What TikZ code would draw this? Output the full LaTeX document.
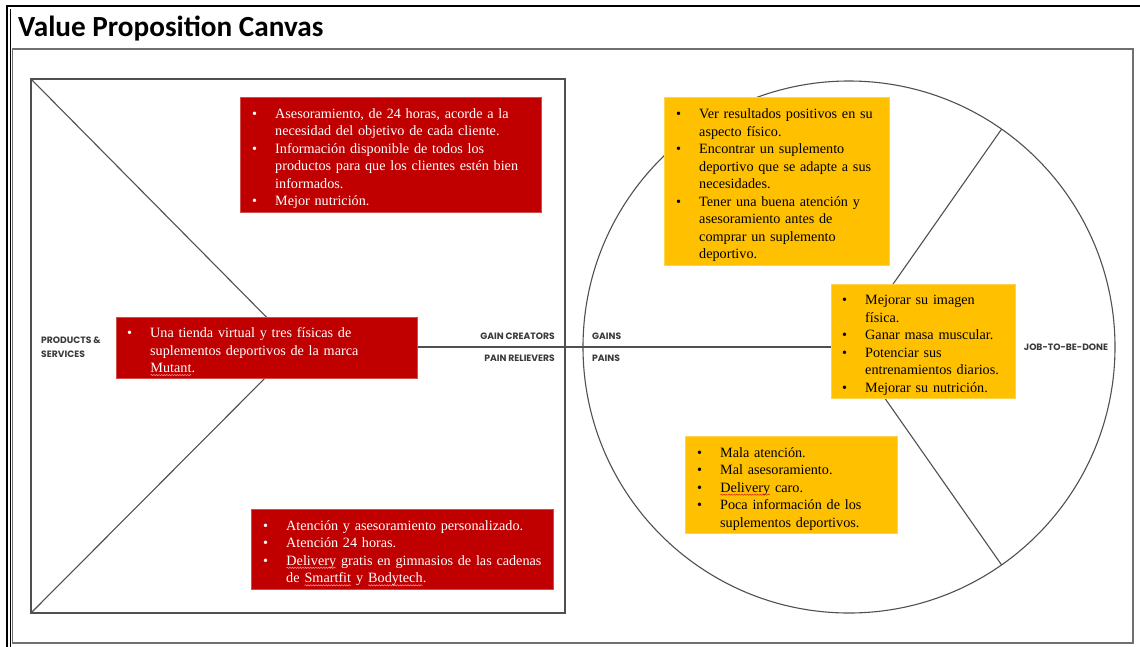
\documentclass[tikz,border=0pt]{standalone}
\usepackage{fontspec}
\setmainfont{Liberation Serif}
\newfontfamily\titlefont{Carlito}
\newfontfamily\labfont{Poppins}
\usetikzlibrary{decorations.pathmorphing}
\definecolor{vpred}{HTML}{C00000}
\definecolor{vpyellow}{HTML}{FFC000}
\definecolor{framegray}{HTML}{707070}
\definecolor{linegray}{HTML}{505050}
\definecolor{labgray}{HTML}{3A3A3A}
\definecolor{squigpink}{HTML}{F0A0A0}
\definecolor{squigred}{HTML}{E02020}
\newcommand\bl[1]{\par{\noindent\hangindent=23pt\hangafter=1\def\\{\hfil\break}\hbox to 23pt{\textbullet\hfil}#1\par}}
\newcommand\squig[2][squigred]{\tikz[baseline=(sw.base)]{\node[inner sep=0pt, outer sep=0pt] (sw) {#2}; \draw[#1, line width=0.5pt, decorate, decoration={snake, amplitude=0.6pt, segment length=2.6pt}] ([yshift=-2.5pt]sw.base west) -- ([yshift=-2.5pt]sw.base east);}}
\tikzset{
  redbox/.style={fill=vpred, draw=vpred!70!white, line width=0.6pt, inner sep=0pt, outer sep=0pt, anchor=north west},
  yelbox/.style={fill=vpyellow, draw=vpyellow!70!white, line width=0.6pt, inner sep=0pt, outer sep=0pt, anchor=north west},
  txt/.style={anchor=west, inner sep=0pt, text width=400pt, align=left, font=\fontsize{14.2}{17.5}\selectfont},
  wtxt/.style={txt, text=white},
  btxt/.style={txt, text=black},
  lab/.style={inner sep=0pt, text=labgray, font=\labfont\bfseries\fontsize{9.2}{13.5}\selectfont},
  canvasline/.style={draw=linegray, line width=1.1pt},
}
\begin{document}
\begin{tikzpicture}[x=1pt, y=-1pt]
\useasboundingbox (0,0) rectangle (1140,646);
\fill[white] (0,0) rectangle (1140,646);
% outer frame
\draw[black, line width=2.2pt] (7,650) -- (7,6) -- (1145,6);
\draw[black, line width=0.8pt] (10,650) -- (10,9);
% title
\node[anchor=base west, inner sep=0pt, font=\titlefont\bfseries\fontsize{29.2}{31}\selectfont] (title) at (18,36) {Value Proposition Canvas};
% inner frame
\draw[framegray, line width=1.4pt] (12.5,49) rectangle (1133,643);
% left square
\coordinate (tl) at (31,79);
\coordinate (bl) at (31,613);
\coordinate (v) at (296,347);
\coordinate (c) at (849,347);
\draw[canvasline] (31,79) rectangle (565,613);
\draw[canvasline] (tl) -- (v) -- (bl);
% circle
\node[circle, canvasline, minimum size=532pt, inner sep=0pt, outer sep=0pt] (circ) at (c) {};
\draw[canvasline] (v) -- (c);
\draw[canvasline] (c) -- (circ.55);
\draw[canvasline] (c) -- (circ.-55);
% labels
\node[lab, anchor=west, align=left] (ps) at (41,347) {PRODUCTS \&\\SERVICES};
\node[lab, anchor=east] (gc) at (555,336) {GAIN CREATORS};
\node[lab, anchor=east] (pr) at (555,358) {PAIN RELIEVERS};
\node[lab, anchor=west] (gains) at (592,336) {GAINS};
\node[lab, anchor=west] (pains) at (592,358) {PAINS};
\node[lab] (jtbd) at (1066,347) {JOB-TO-BE-DONE};
% red boxes
\node[redbox, minimum width=301pt, minimum height=115pt] (r1) at (240,97) {};
\node[wtxt] (r1t) at ([xshift=12pt,yshift=-0.5pt]r1.west) {%
\bl{Asesoramiento, de 24 horas, acorde a la\\necesidad del objetivo de cada cliente.}%
\bl{Información disponible de todos los\\productos para que los clientes estén bien\\informados.}%
\bl{Mejor nutrición.}};
\node[redbox, minimum width=301pt, minimum height=61pt] (r2) at (116,317) {};
\node[wtxt] (r2t) at ([xshift=11pt,yshift=-0.5pt]r2.west) {%
\bl{Una tienda virtual y tres físicas de\\suplementos deportivos de la marca\\\squig[squigpink]{Mutant}.}};
\node[redbox, minimum width=302pt, minimum height=80pt] (r3) at (251,509) {};
\node[wtxt] (r3t) at ([xshift=12pt,yshift=-0.5pt]r3.west) {%
\bl{Atención y asesoramiento personalizado.}%
\bl{Atención 24 horas.}%
\bl{\squig[squigpink]{Delivery} gratis en gimnasios de las cadenas\\de \squig[squigpink]{Smartfit} y \squig[squigpink]{Bodytech}.}};
% yellow boxes
\node[yelbox, minimum width=225pt, minimum height=168pt] (y1) at (664,97) {};
\node[btxt] (y1t) at ([xshift=12pt,yshift=-0.5pt]y1.west) {%
\bl{Ver resultados positivos en su\\aspecto físico.}%
\bl{Encontrar un suplemento\\deportivo que se adapte a sus\\necesidades.}%
\bl{Tener una buena atención y\\asesoramiento antes de\\comprar un suplemento\\deportivo.}};
\node[yelbox, minimum width=184pt, minimum height=114pt] (y2) at (831,284) {};
\node[btxt] (y2t) at ([xshift=11pt,yshift=-0.5pt]y2.west) {%
\bl{Mejorar su imagen\\física.}%
\bl{Ganar masa muscular.}%
\bl{Potenciar sus\\entrenamientos diarios.}%
\bl{Mejorar su nutrición.}};
\node[yelbox, minimum width=212pt, minimum height=97pt] (y3) at (685,436) {};
\node[btxt] (y3t) at ([xshift=12pt,yshift=-0.5pt]y3.west) {%
\bl{Mala atención.}%
\bl{Mal asesoramiento.}%
\bl{\squig{Delivery} caro.}%
\bl{Poca información de los\\suplementos deportivos.}};
\end{tikzpicture}
\end{document}
